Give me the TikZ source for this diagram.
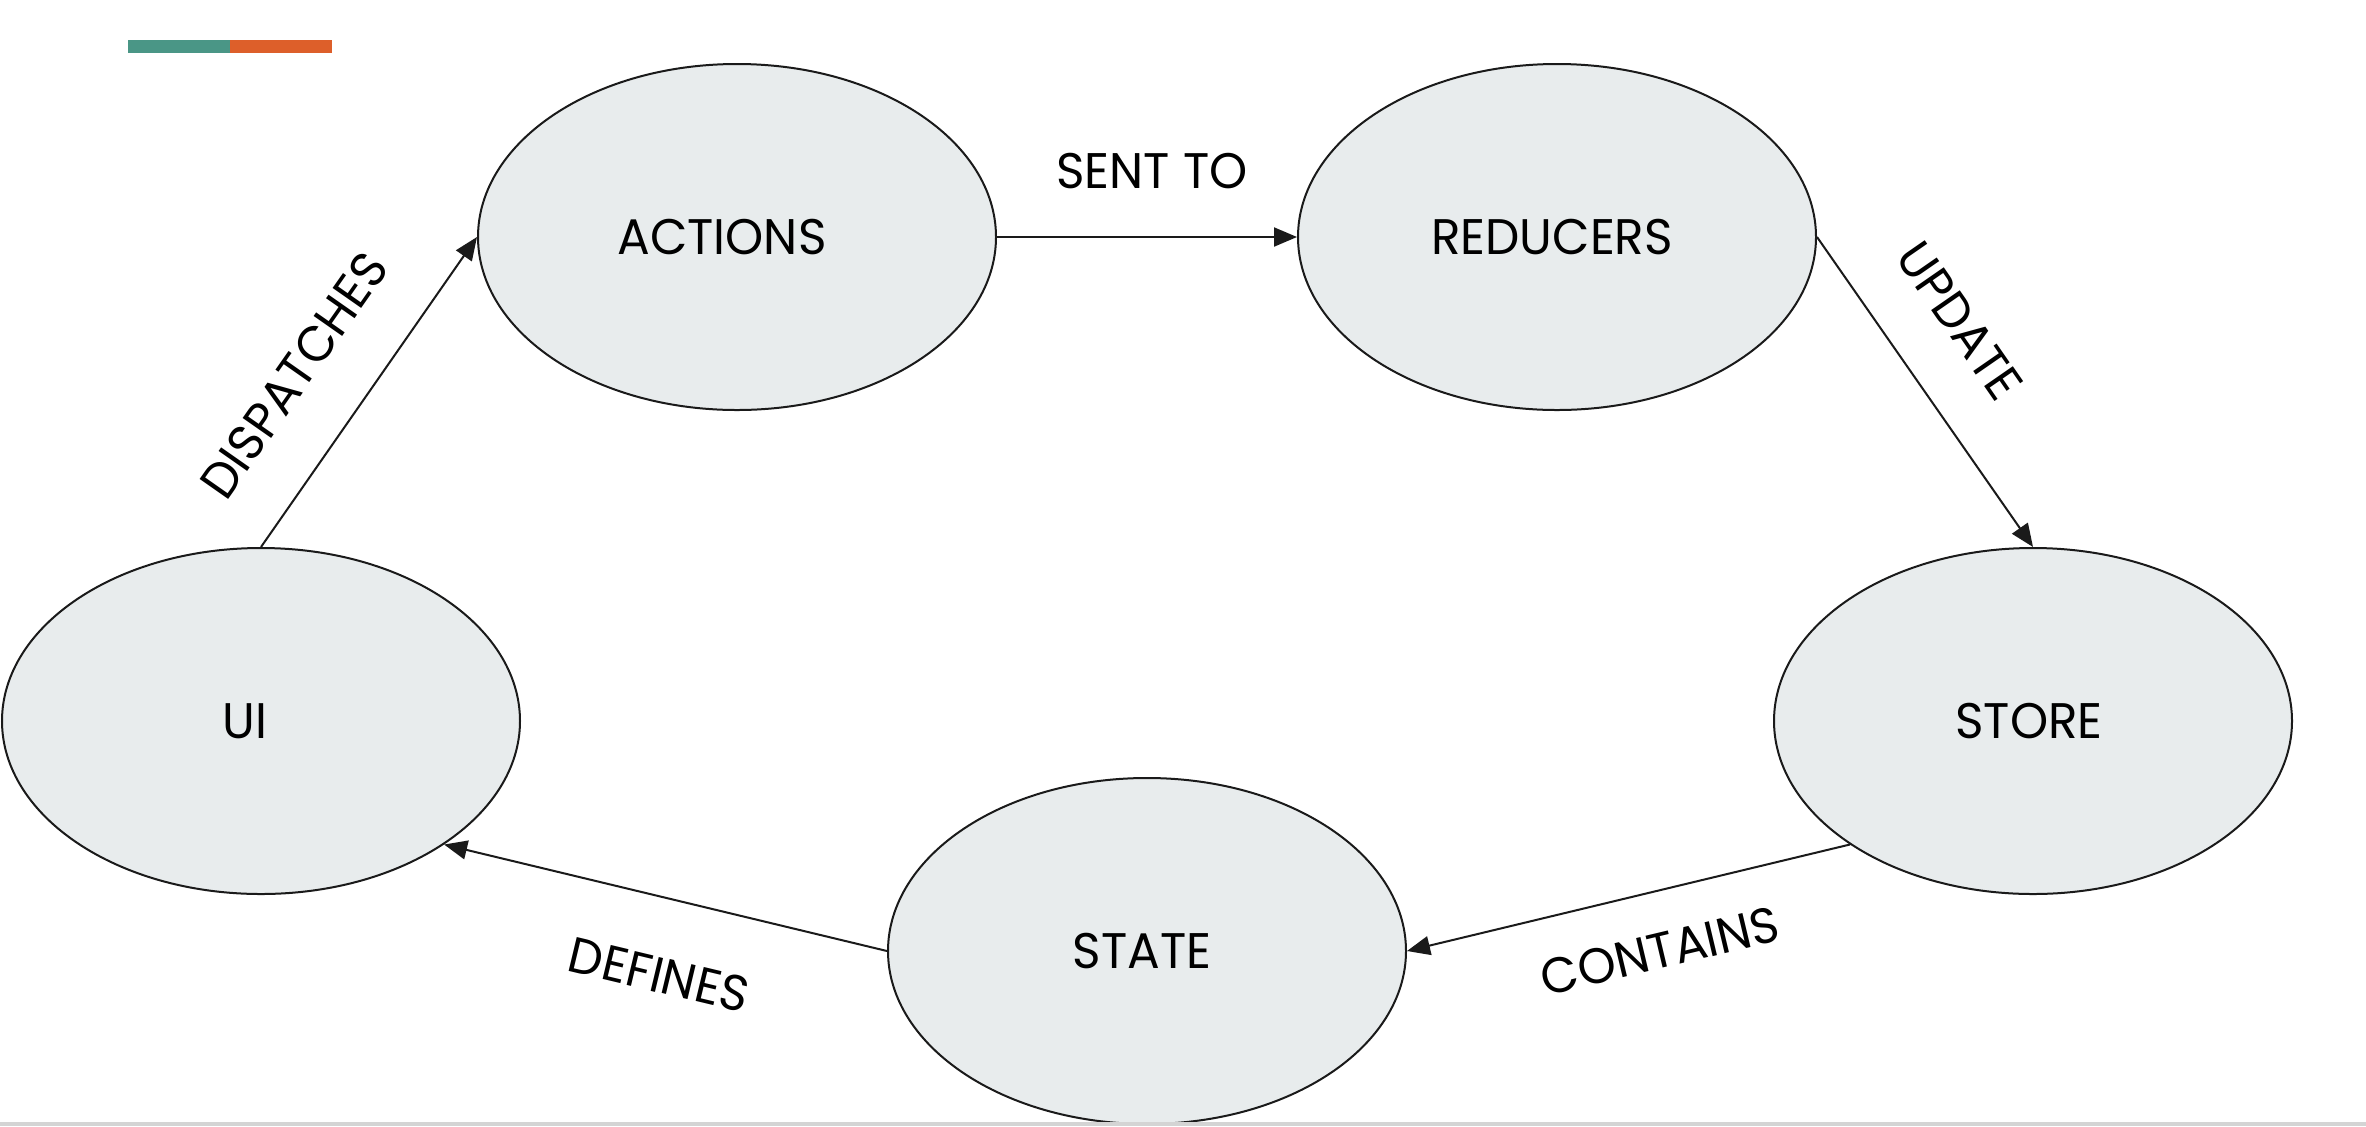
\documentclass[tikz,border=0pt]{standalone}
\usepackage{fontspec}
\setmainfont[FakeStretch=0.97]{Poppins}
\usetikzlibrary{arrows.meta,shapes.geometric}
\definecolor{ellfill}{HTML}{E8ECED}
\definecolor{ink}{HTML}{1A1A1A}
\definecolor{barteal}{HTML}{4A9686}
\definecolor{barorange}{HTML}{DD5F2A}
\definecolor{stripgray}{HTML}{D4D4D4}
\begin{document}
\begin{tikzpicture}[x=0.5pt,y=-0.5pt,
  ell/.style={ellipse, draw=ink, fill=ellfill, line width=1pt,
    minimum width=259pt, minimum height=173pt, inner sep=0pt},
  ntext/.style={font=\fontsize{25}{30}\selectfont, inner sep=0pt, text=black},
  lbl/.style={font=\fontsize{25}{30}\selectfont, inner sep=0pt, text=black},
  conn/.style={draw=ink, line width=1pt, -{Triangle[length=11.5pt,width=9.5pt]}}]
\useasboundingbox (0,0) rectangle (2366,1126);
% colour bar
\fill[barteal] (128,40) rectangle (230,53);
\fill[barorange] (230,40) rectangle (332,53);
% ellipses
\node[ell] (actions) at (737,237) {};
\node[ell] (reducers) at (1557,237) {};
\node[ell] (store) at (2033,721) {};
\node[ell] (state) at (1147,951) {};
\node[ell] (ui) at (261,721) {};
% ellipse texts
\node[ntext] (actionsT) at (722,237) {ACTIONS};
\node[ntext] (reducersT) at (1552,237) {REDUCERS};
\node[ntext] (storeT) at (2029,721) {STORE};
\node[ntext] (stateT) at (1142,951) {STATE};
\node[ntext] (uiT) at (245,721) {UI};
% connectors
\draw[conn] (ui.north) -- (actions.west);
\draw[conn] (actions.east) -- (reducers.west);
\draw[conn] (reducers.east) -- (store.north);
\draw[conn] (store.214) -- (state.east);
\draw[conn] (state.west) -- (ui.-34);
% connector labels
\node[lbl] (lsent) at (1152,171) {SENT TO};
\node[lbl, rotate=55] (ldisp) at (294,375) {DISPATCHES};
\node[lbl, rotate=-55.3] (lupd) at (1960,321) {UPDATE};
\node[lbl, rotate=13.4] (lcont) at (1660,951) {CONTAINS};
\node[lbl, rotate=-13.5] (ldef) at (659,975) {DEFINES};
% bottom strip
\fill[stripgray] (0,1122) rectangle (2366,1126);
\end{tikzpicture}
\end{document}
